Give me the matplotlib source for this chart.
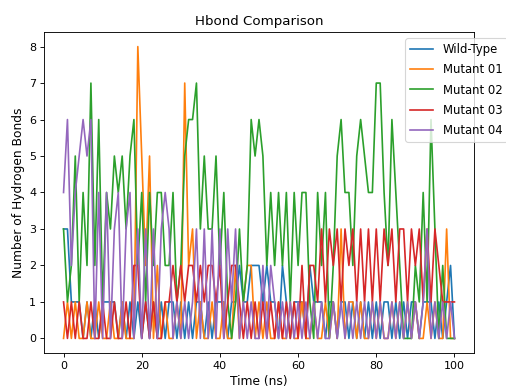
import matplotlib
matplotlib.use("Agg")
import matplotlib.pyplot as plt
import numpy as np

# time in ns, one frame per ns
time_ns = np.arange(0, 101)

wild_type = [3, 3, 1, 1, 1, 0, 1, 0, 1, 0,
             1, 1, 1, 1, 0, 1, 0, 1, 0, 1,
             0, 1, 0, 1, 0, 1, 0, 1, 1, 0,
             1, 0, 1, 0, 1, 1, 0, 1, 0, 1,
             1, 1, 0, 1, 1, 2, 1, 1, 2, 2,
             2, 1, 2, 1, 1, 0, 2, 1, 0, 1,
             1, 1, 0, 2, 1, 1, 1, 0, 1, 1,
             0, 1, 1, 0, 1, 0, 1, 0, 1, 0,
             1, 0, 1, 1, 0, 1, 0, 1, 0, 1,
             1, 0, 1, 1, 1, 0, 1, 0, 1, 2,
             0]

mutant_01 = [0, 1, 0, 1, 0, 0, 1, 0, 0, 1,
             0, 0, 1, 0, 0, 1, 0, 0, 0, 8,
             5, 2, 5, 0, 2, 0, 1, 0, 0, 1,
             0, 7, 2, 3, 0, 1, 0, 0, 1, 0,
             0, 1, 0, 0, 2, 0, 1, 2, 2, 0,
             1, 0, 1, 0, 0, 1, 0, 0, 1, 0,
             0, 1, 0, 0, 1, 0, 0, 1, 0, 1,
             0, 3, 0, 1, 1, 0, 1, 0, 0, 1,
             0, 1, 0, 0, 1, 0, 1, 0, 1, 0,
             1, 0, 0, 1, 0, 1, 0, 0, 3, 0,
             0]

mutant_02 = [3, 1, 2, 5, 1, 4, 2, 7, 2, 6,
             1, 4, 3, 5, 4, 5, 3, 5, 6, 2,
             4, 1, 4, 2, 4, 4, 2, 2, 4, 1,
             2, 5, 6, 6, 7, 3, 5, 3, 3, 5,
             2, 4, 1, 0, 1, 3, 1, 2, 6, 5,
             6, 5, 2, 4, 2, 4, 2, 4, 1, 4,
             2, 4, 4, 1, 0, 4, 2, 4, 0, 2,
             5, 6, 4, 4, 2, 5, 6, 5, 4, 4,
             7, 7, 4, 2, 6, 4, 2, 0, 0, 0,
             2, 1, 4, 1, 6, 3, 0, 2, 0, 0,
             0]

mutant_03 = [1, 0, 1, 0, 1, 0, 0, 1, 0, 0,
             1, 0, 0, 1, 0, 0, 1, 0, 2, 2,
             0, 1, 0, 1, 0, 0, 1, 1, 2, 1,
             2, 1, 2, 2, 1, 2, 1, 2, 2, 1,
             2, 0, 1, 2, 2, 1, 0, 1, 0, 1,
             0, 1, 0, 1, 0, 1, 0, 1, 0, 1,
             0, 2, 0, 2, 2, 1, 3, 1, 3, 2,
             3, 1, 3, 2, 3, 1, 3, 1, 3, 1,
             3, 1, 3, 2, 3, 1, 3, 3, 1, 3,
             2, 3, 1, 3, 1, 3, 2, 1, 1, 1,
             1]

mutant_04 = [4, 6, 2, 4, 5, 6, 5, 6, 0, 4,
             0, 4, 0, 3, 4, 0, 3, 4, 0, 3,
             0, 3, 0, 3, 0, 3, 4, 3, 0, 1,
             0, 1, 0, 1, 3, 0, 3, 0, 3, 0,
             3, 0, 3, 1, 3, 0, 1, 0, 1, 0,
             0, 2, 0, 2, 1, 0, 1, 0, 1, 0,
             1, 0, 1, 0, 1, 0, 1, 0, 0, 1,
             0, 1, 0, 1, 0, 1, 0, 1, 0, 1,
             0, 1, 0, 0, 1, 0, 1, 0, 1, 0,
             1, 0, 1, 3, 0, 1, 0, 1, 0, 1,
             0]

series = [("Wild-Type", wild_type), ("Mutant 01", mutant_01), ("Mutant 02", mutant_02),
          ("Mutant 03", mutant_03), ("Mutant 04", mutant_04)]

# reference looks like a default figure shrunk to 80 %, so draw at dpi 80
fig = plt.figure(figsize=(506/80, 390/80), dpi=80)
ax = fig.add_axes([44/506, 37/390, 430/506, 321/390])

for name, vals in series:
    ax.plot(time_ns, vals, label=name)

ax.set_title("Hbond Comparison", fontsize=12)
ax.set_xlabel("Time (ns)", fontsize=11)
ax.set_ylabel("Number of Hydrogen Bonds", fontsize=11)
ax.legend(loc="upper left", bbox_to_anchor=(0.84, 0.98), borderaxespad=0,
          fontsize=10.5, labelspacing=0.62)

fig.savefig("out.png", dpi=80)
